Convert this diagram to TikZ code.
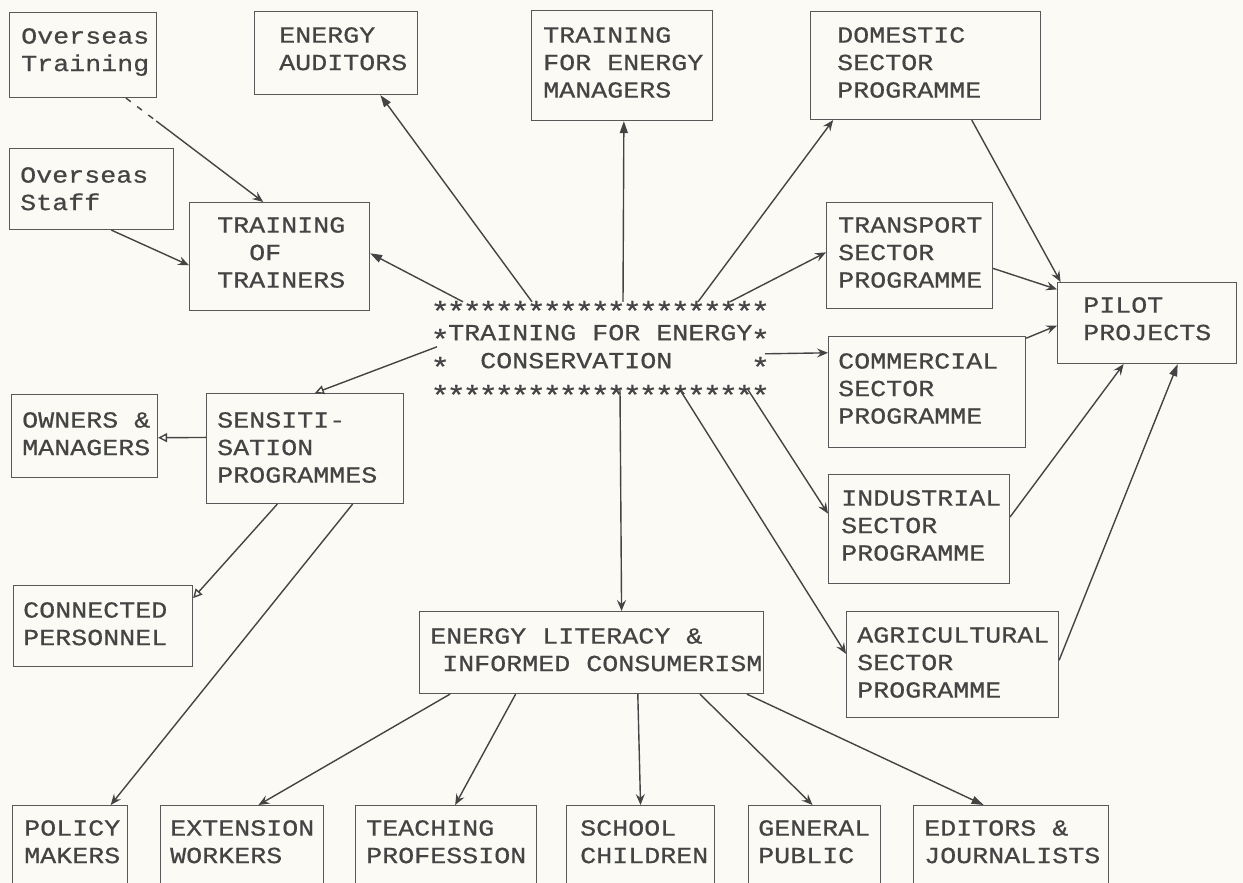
\documentclass[tikz,border=0pt]{standalone}
\usepackage{fontspec}
\usetikzlibrary{calc,arrows.meta}
\newfontfamily\dotm[FakeStretch=1.16,FakeBold=0.6]{Liberation Mono}
\definecolor{paper}{RGB}{252,250,244}
\definecolor{ink}{RGB}{68,68,68}
\definecolor{boxink}{RGB}{88,88,88}
\newcommand\sr{\makebox[\fontcharwd\font`M][c]{\raisebox{-8.7pt}{\scalebox{1.2}{*}}}}
\newcommand\gap[1]{\hspace*{#1\fontcharwd\font`M}}
\newcommand\starrow{\sr\sr\sr\sr\sr\sr\sr\sr\sr\sr\sr\sr\sr\sr\sr\sr\sr\sr\sr\sr\sr}
\newcommand\cp{\rule{0pt}{15.2pt}}
\begin{document}
\begin{tikzpicture}[x=1pt,y=-1pt,
  box/.style={draw=boxink, line width=1.1pt, inner sep=0pt, anchor=north west},
  lbl/.style={anchor=north west, inner sep=0pt, align=left, text=ink,
    font=\dotm\fontsize{23}{27.5}\selectfont},
  conn/.style={draw=ink, line width=1.4pt},
  arr/.style={conn, -{Stealth[length=11pt,width=9pt,inset=4pt]}},
  farr/.style={conn, -{Triangle[length=12pt,width=8pt]}},
  oarr/.style={conn, -{Triangle[open,length=9pt,width=9pt,fill=paper]}}]
\useasboundingbox (0,0) rectangle (1243,883);
\clip (0,0) rectangle (1243,883);
\fill[paper] (0,0) rectangle (1243,883);

% boxes
\node[box, minimum width=147, minimum height=85] (ot) at (9,12) {};
\node[box, minimum width=164, minimum height=81] (os) at (9,148) {};
\node[box, minimum width=163, minimum height=83] (ea) at (254,11) {};
\node[box, minimum width=181, minimum height=110] (tem) at (531,10) {};
\node[box, minimum width=230, minimum height=108] (dom) at (810,11) {};
\node[box, minimum width=180, minimum height=108] (tot) at (189,202) {};
\node[box, minimum width=166, minimum height=106] (tra) at (826,202) {};
\node[box, minimum width=179, minimum height=81] (pil) at (1057,282) {};
\node[box, minimum width=197, minimum height=111] (com) at (828,336) {};
\node[box, minimum width=146, minimum height=83] (own) at (11,394) {};
\node[box, minimum width=197, minimum height=110] (sen) at (206,393) {};
\node[box, minimum width=181, minimum height=109] (ind) at (828,474) {};
\node[box, minimum width=179, minimum height=81] (con) at (13,585) {};
\node[box, minimum width=344, minimum height=82] (el) at (419,611) {};
\node[box, minimum width=212, minimum height=106] (agr) at (846,611) {};
\node[box, minimum width=115, minimum height=100] (pol) at (12,805) {};
\node[box, minimum width=163, minimum height=100] (ext) at (160,805) {};
\node[box, minimum width=181, minimum height=100] (tea) at (355,805) {};
\node[box, minimum width=148, minimum height=100] (sch) at (566,805) {};
\node[box, minimum width=132, minimum height=100] (gen) at (748,805) {};
\node[box, minimum width=195, minimum height=100] (edi) at (913,805) {};

% texts
\node[lbl] (ot-t) at (21,28) {\cp Overseas\\Training};
\node[lbl] (os-t) at (20,167) {\cp Overseas\\Staff};
\node[lbl] (ea-t) at (279,27) {\cp ENERGY\\AUDITORS};
\node[lbl] (tem-t) at (543,27) {\cp TRAINING\\FOR ENERGY\\MANAGERS};
\node[lbl] (dom-t) at (837,27) {\cp DOMESTIC\\SECTOR\\PROGRAMME};
\node[lbl] (tot-t) at (217,217) {\cp TRAINING\\\gap{2}OF\\TRAINERS};
\node[lbl] (tra-t) at (838,217) {\cp TRANSPORT\\SECTOR\\PROGRAMME};
\node[lbl] (pil-t) at (1083,297) {\cp PILOT\\PROJECTS};
\node[lbl] (com-t) at (838,353) {\cp COMMERCIAL\\SECTOR\\PROGRAMME};
\node[lbl] (own-t) at (22,412) {\cp OWNERS \&\\MANAGERS};
\node[lbl] (sen-t) at (217,412) {\cp SENSITI-\\SATION\\PROGRAMMES};
\node[lbl] (ind-t) at (841,490) {\cp INDUSTRIAL\\SECTOR\\PROGRAMME};
\node[lbl] (con-t) at (23,602) {\cp CONNECTED\\PERSONNEL};
\node[lbl] (el-t) at (430,628) {\cp ENERGY LITERACY \&\\\hspace*{12pt}INFORMED CONSUMERISM};
\node[lbl] (agr-t) at (857,627) {\cp AGRICULTURAL\\SECTOR\\PROGRAMME};
\node[lbl] (pol-t) at (24,820) {\cp POLICY\\MAKERS};
\node[lbl] (ext-t) at (170,820) {\cp EXTENSION\\WORKERS};
\node[lbl] (tea-t) at (366,820) {\cp TEACHING\\PROFESSION};
\node[lbl] (sch-t) at (580,820) {\cp SCHOOL\\CHILDREN};
\node[lbl] (gen-t) at (758,820) {\cp GENERAL\\PUBLIC};
\node[lbl] (edi-t) at (924,820) {\cp EDITORS \&\\JOURNALISTS};

% central block
\node[lbl, font=\dotm\fontsize{23}{28}\selectfont] (tec) at (432,296.8)
  {\cp\starrow\\\sr TRAINING FOR ENERGY\sr\\\sr\gap{2}CONSERVATION\gap{5}\sr\\\starrow};

% connectors
\path ($(ot.south west)!0.79!(ot.south east)$) coordinate (ots)
      ($(tot.north west)!0.41!(tot.north east)$) coordinate (tott);
\draw[conn, dash pattern=on 6pt off 8pt] (ots) -- ($(ots)!0.22!(tott)$);
\draw[arr] ($(ots)!0.22!(tott)$) -- (tott);
\draw[arr] ($(os.south west)!0.62!(os.south east)$) -- ($(tot.north west)!0.58!(tot.south west)$);
\draw[farr] ($(tec.north west)+(31,5)$) -- ($(tot.north east)!0.47!(tot.south east)$);
\draw[farr] ($(tec.north west)+(100,5)$) -- ($(ea.south west)!0.77!(ea.south east)$);
\draw[farr] ($(tec.north west)+(191,5)$) -- ($(tem.south west)!0.51!(tem.south east)$);
\draw[arr] ($(tec.north west)+(266,5)$) -- ($(dom.south west)!0.1!(dom.south east)$);
\draw[arr] ($(tec.north west)+(298,5)$) -- ($(tra.north west)!0.47!(tra.south west)$);
\draw[arr] ($(tec.north west)+(333,57)$) -- ($(com.north west)!0.15!(com.south west)$);
\draw[arr] ($(tec.north west)+(188,93)$) -- ($(el.north west)!0.587!(el.north east)$);
\draw[arr] ($(tec.north west)+(316,93)$) -- ($(ind.north west)!0.36!(ind.south west)$);
\draw[arr] ($(tec.north west)+(248,93)$) -- ($(agr.north west)!0.40!(agr.south west)$);
\draw[oarr] ($(tec.north west)+(5,50)$) -- ($(sen.north west)!0.55!(sen.north east)$);
\draw[oarr] ($(sen.north west)!0.4!(sen.south west)$) -- ($(own.north east)!0.52!(own.south east)$);
\draw[oarr] ($(sen.south west)!0.36!(sen.south east)$) -- ($(con.north east)!0.16!(con.south east)$);
\draw[arr] ($(sen.south west)!0.74!(sen.south east)$) -- ($(pol.north west)!0.85!(pol.north east)$);
\draw[arr] ($(el.south west)!0.09!(el.south east)$) -- ($(ext.north west)!0.6!(ext.north east)$);
\draw[arr] ($(el.south west)!0.28!(el.south east)$) -- ($(tea.north west)!0.55!(tea.north east)$);
\draw[arr] ($(el.south west)!0.634!(el.south east)$) -- ($(sch.north west)!0.5!(sch.north east)$);
\draw[arr] ($(el.south west)!0.814!(el.south east)$) -- ($(gen.north west)!0.485!(gen.north east)$);
\draw[farr] ($(el.south west)!0.95!(el.south east)$) -- ($(edi.north west)!0.36!(edi.north east)$);
\draw[arr] ($(dom.south west)!0.70!(dom.south east)$) -- ($(pil.north west)!0.02!(pil.north east)$);
\draw[arr] ($(tra.north east)!0.62!(tra.south east)$) -- ($(pil.north west)!0.09!(pil.south west)$);
\draw[arr] ($(com.north east)!0.02!(com.south east)$) -- ($(pil.north west)!0.53!(pil.south west)$);
\draw[arr] ($(ind.north east)!0.39!(ind.south east)$) -- ($(pil.south west)!0.37!(pil.south east)$);
\draw[farr] ($(agr.north east)!0.46!(agr.south east)$) -- ($(pil.south west)!0.67!(pil.south east)$);
\end{tikzpicture}
\end{document}
